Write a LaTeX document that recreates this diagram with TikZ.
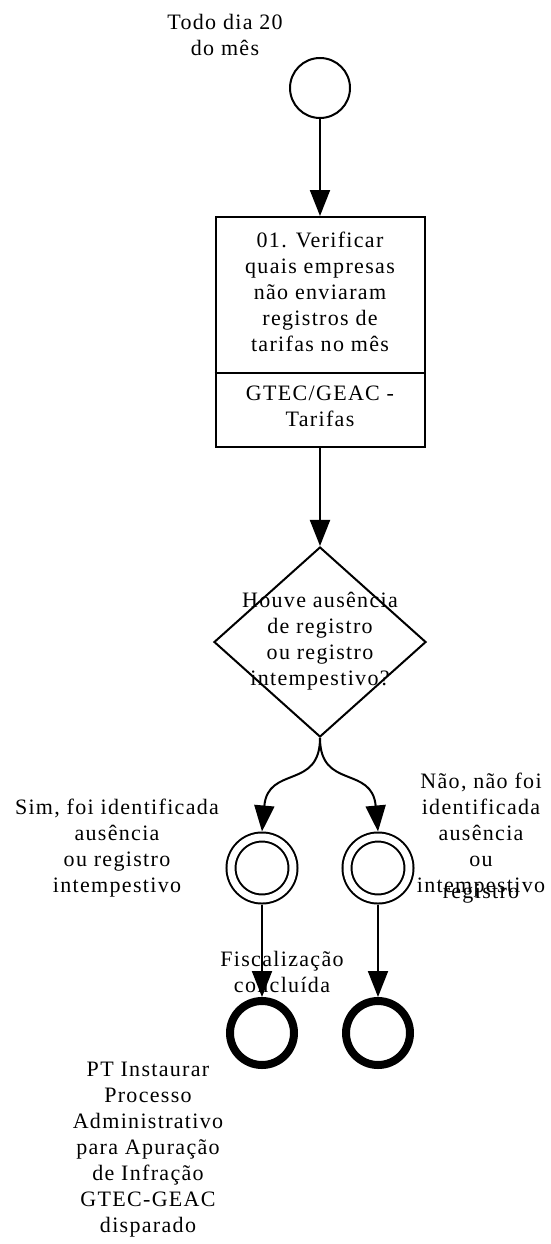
\documentclass[tikz,border=0pt]{standalone}
\usepackage{fontspec}
\setmainfont{Liberation Serif}[LetterSpace=6]
\usetikzlibrary{shapes.geometric,arrows.meta,positioning}

\begin{document}
\begin{tikzpicture}[x=10pt, y=-10pt,
  font=\fontsize{22}{26}\selectfont,
  freccia/.style={-{Triangle[length=26pt,width=20pt]}, line width=2pt},
  inizio/.style={draw, circle, line width=2pt, minimum size=60pt, inner sep=0pt},
  attivita/.style={draw, rectangle, line width=2pt, minimum width=209pt, minimum height=230pt},
  gateway/.style={draw, diamond, line width=2pt, minimum width=212pt, minimum height=190pt, inner sep=0pt},
  intermedio/.style={draw, circle, double, double distance=7pt, line width=2pt, minimum size=62pt, inner sep=0pt, outer sep=5.5pt},
  fine/.style={draw, circle, line width=8pt, minimum size=64pt, inner sep=0pt},
  testo/.style={align=center, inner sep=0pt}]
  \useasboundingbox (0,0) rectangle (55,124.4);

  % evento di inizio
  \node[inizio] (inizio) at (32,8.8) {};
  \node[testo] (lblInizio) at (22.5,3.45) {Todo dia 20\\do mês};

  % attivita
  \node[attivita] (verifica) at (32,33.2) {};
  \node[testo] (txtVerifica) at (32,29.2) {01. Verificar\\quais empresas\\não enviaram\\registros de\\tarifas no mês};
  \node[testo] (txtResp) at (32,40.6) {GTEC/GEAC -\\Tarifas};
  \coordinate (divisore) at (0,37.3);
  \draw[line width=2pt] (verifica.west |- divisore) -- (verifica.east |- divisore);

  % gateway
  \node[gateway] (gw) at (32,64.2) {};
  \node[testo] (txtGw) at (32,64.1) {Houve ausência\\de registro\\ou registro\\intempestivo?};

  % eventi intermedi e di fine
  \node[intermedio] (sim) at (26.2,86.8) {};
  \node[intermedio] (nao) at (37.8,86.8) {};
  \node[fine] (fineSim) at (26.2,103.3) {};
  \node[fine] (fineNao) at (37.8,103.3) {};

  % etichette
  \node[testo] (lblSim) at (11.7,84.8) {Sim, foi identificada\\ausência\\ou registro\\intempestivo};
  \node[testo, anchor=north] (lblNao) at (48.1,77.3) {Não, não foi\\identificada\\ausência\\ou\hspace{48pt}\\intempestivo\\[-20pt]registro};
  \node[testo] (lblFisc) at (28.2,97.15) {Fiscalização\\concluída};
  \node[testo] (lblFine) at (14.8,115.0) {PT Instaurar\\Processo\\Administrativo\\para Apuração\\de Infração\\GTEC-GEAC\\disparado};

  % flussi
  \draw[freccia] (inizio) -- (verifica);
  \draw[freccia] (verifica) -- (gw);
  \draw[freccia] (gw.south) .. controls (32,79) and (26.8,76.5) .. (sim.north);
  \draw[freccia] (gw.south) .. controls (32,79) and (37.2,76.5) .. (nao.north);
  \draw[freccia] (sim) -- (fineSim);
  \draw[freccia] (nao) -- (fineNao);
\end{tikzpicture}
\end{document}
